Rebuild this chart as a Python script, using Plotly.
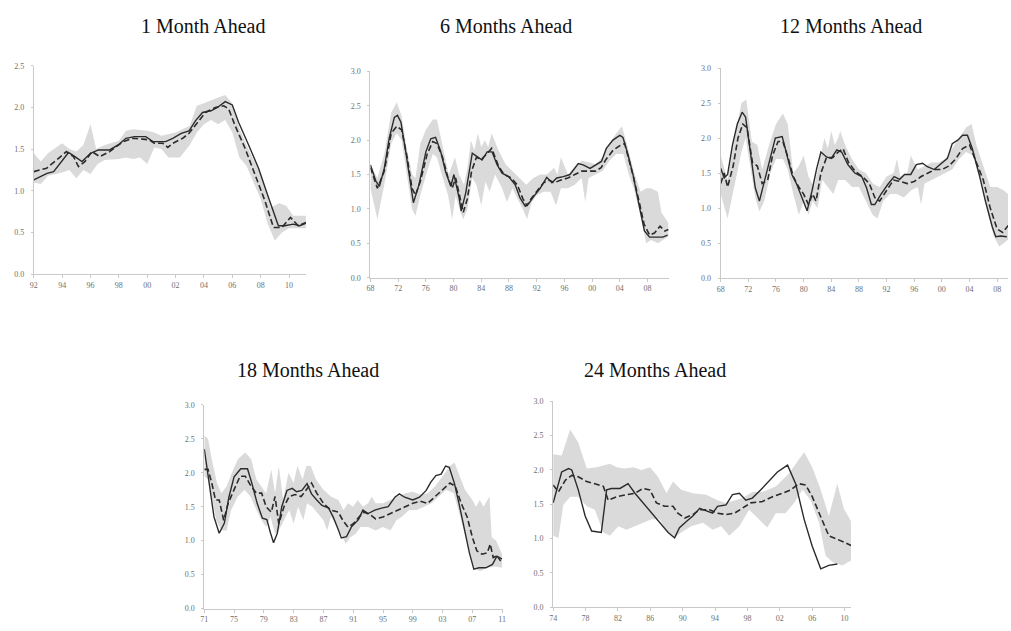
import plotly.graph_objects as go

W, H = 1011, 631

# ---------------- 1 Month Ahead ----------------
m1_actual_x = [1992.0, 1992.93, 1993.4, 1994.0, 1994.45, 1994.9, 1995.4, 1996.0, 1996.55, 1997.35,
               1997.95, 1998.5, 1999.1, 1999.9, 2000.4, 2000.85, 2001.3, 2001.8, 2002.4, 2002.95,
               2003.4, 2003.9, 2004.5, 2004.95, 2005.5, 2006.0, 2006.45, 2007.15, 2007.85, 2008.55,
               2009.25, 2009.7, 2010.3, 2010.75, 2011.2]
m1_actual_y = [1.13, 1.21, 1.23, 1.37, 1.46, 1.41, 1.35, 1.45, 1.49, 1.49,
               1.55, 1.63, 1.65, 1.65, 1.59, 1.59, 1.59, 1.63, 1.69, 1.72,
               1.84, 1.94, 1.96, 2.00, 2.07, 2.03, 1.82, 1.55, 1.27, 0.92,
               0.58, 0.58, 0.60, 0.58, 0.61]
m1_fc_x = [1992.0, 1992.9, 1993.75, 1994.3, 1994.8, 1995.15, 1995.6, 1996.1, 1996.65, 1997.35,
           1998.3, 1999.0, 1999.7, 2000.15, 2000.5, 2001.1, 2001.45, 2001.8, 2002.5, 2002.95,
           2003.55, 2004.1, 2004.8, 2005.4, 2005.75, 2006.2, 2006.9, 2007.6, 2008.3, 2008.9,
           2009.5, 2010.1, 2010.65, 2011.2]
m1_fc_y = [1.23, 1.27, 1.39, 1.47, 1.41, 1.29, 1.35, 1.47, 1.41, 1.47,
           1.59, 1.63, 1.62, 1.61, 1.57, 1.57, 1.52, 1.57, 1.63, 1.69,
           1.82, 1.94, 2.00, 2.02, 1.98, 1.78, 1.51, 1.19, 0.88, 0.56,
           0.56, 0.68, 0.58, 0.62]
m1_hi_x = [1992.0, 1992.5, 1993.0, 1994.0, 1994.5, 1995.0, 1995.5, 1996.0, 1996.4, 1997.0,
           1998.0, 1998.5, 1999.0, 2000.0, 2000.5, 2001.0, 2002.0, 2003.0, 2003.5, 2004.0,
           2005.0, 2005.5, 2006.0, 2006.5, 2007.0, 2008.0, 2008.7, 2009.3, 2009.8, 2010.3, 2011.2]
m1_hi_y = [1.45, 1.35, 1.45, 1.57, 1.50, 1.47, 1.55, 1.80, 1.50, 1.55,
           1.60, 1.72, 1.74, 1.72, 1.70, 1.66, 1.70, 1.78, 2.02, 2.05,
           2.12, 2.15, 2.05, 1.75, 1.55, 1.20, 0.80, 0.85, 0.82, 0.70, 0.70]
m1_lo_x = [1992.0, 1992.5, 1993.0, 1994.0, 1994.5, 1995.0, 1995.5, 1996.0, 1996.5, 1997.0,
           1998.0, 1998.5, 1999.0, 1999.5, 2000.0, 2000.5, 2001.0, 2001.5, 2002.3, 2003.0,
           2003.5, 2004.0, 2004.5, 2005.0, 2005.5, 2006.0, 2006.5, 2007.0, 2008.0, 2008.5,
           2009.0, 2009.5, 2010.0, 2011.2]
m1_lo_y = [1.10, 1.08, 1.18, 1.22, 1.25, 1.15, 1.25, 1.20, 1.32, 1.37,
           1.38, 1.40, 1.38, 1.40, 1.32, 1.52, 1.50, 1.40, 1.40, 1.55,
           1.70, 1.80, 1.85, 1.80, 1.85, 1.70, 1.40, 1.30, 0.90, 0.60,
           0.40, 0.50, 0.55, 0.55]

# ---------------- 6 Months Ahead ----------------
m6_actual_x = [1968.0, 1968.8, 1969.3, 1970.0, 1970.7, 1971.45, 1971.9, 1972.4, 1973.1, 1973.85,
               1974.2, 1975.0, 1976.0, 1976.7, 1977.4, 1978.15, 1978.85, 1979.6, 1980.05, 1980.8,
               1981.1, 1981.75, 1982.2, 1982.7, 1983.4, 1984.1, 1984.85, 1985.55, 1986.3, 1987.0,
               1987.95, 1988.9, 1989.6, 1990.35, 1990.8, 1991.55, 1992.5, 1993.45, 1994.2, 1994.9,
               1995.85, 1996.8, 1998.0, 1998.7, 1999.7, 2000.6, 2001.35, 2002.05, 2003.0, 2004.0,
               2004.45, 2005.2, 2005.9, 2006.85, 2007.55, 2008.3, 2009.25, 2010.2, 2010.9]
m6_actual_y = [1.64, 1.40, 1.33, 1.59, 2.02, 2.33, 2.36, 2.26, 1.83, 1.30,
               1.09, 1.35, 1.83, 2.02, 2.04, 1.83, 1.54, 1.33, 1.50, 1.16,
               0.97, 1.23, 1.50, 1.81, 1.76, 1.71, 1.83, 1.83, 1.64, 1.52,
               1.47, 1.35, 1.16, 1.04, 1.07, 1.18, 1.30, 1.46, 1.38, 1.45,
               1.47, 1.50, 1.66, 1.64, 1.59, 1.64, 1.69, 1.88, 2.00, 2.07,
               2.04, 1.78, 1.50, 1.02, 0.68, 0.59, 0.59, 0.59, 0.62]
m6_fc_x = [1968.0, 1969.0, 1970.0, 1971.0, 1971.8, 1972.5, 1973.3, 1974.0, 1974.5, 1975.2,
           1976.2, 1977.0, 1977.6, 1978.4, 1979.2, 1979.8, 1980.3, 1981.0, 1981.4, 1982.0,
           1982.6, 1983.3, 1984.0, 1984.8, 1985.5, 1986.5, 1987.3, 1988.3, 1989.2, 1990.0,
           1990.6, 1991.2, 1992.0, 1993.0, 1993.8, 1994.5, 1995.5, 1996.5, 1997.5, 1998.5,
           1999.5, 2000.5, 2001.3, 2002.0, 2003.0, 2004.0, 2004.7, 2005.3, 2006.0, 2006.8,
           2007.5, 2008.3, 2009.0, 2009.8, 2010.5, 2011.0]
m6_fc_y = [1.60, 1.30, 1.55, 2.10, 2.20, 2.15, 1.75, 1.30, 1.20, 1.40,
           1.80, 1.98, 1.95, 1.75, 1.45, 1.30, 1.45, 1.10, 0.95, 1.15,
           1.55, 1.75, 1.72, 1.80, 1.88, 1.62, 1.50, 1.45, 1.35, 1.15,
           1.05, 1.15, 1.25, 1.38, 1.42, 1.38, 1.42, 1.45, 1.50, 1.55,
           1.55, 1.55, 1.60, 1.72, 1.85, 1.92, 1.95, 1.72, 1.45, 1.10,
           0.78, 0.62, 0.65, 0.75, 0.68, 0.70]
m6_hi_x = [1968.0, 1969.0, 1970.0, 1971.0, 1971.8, 1972.5, 1973.2, 1974.0, 1974.5, 1975.2,
           1976.0, 1977.0, 1977.6, 1978.3, 1979.3, 1980.2, 1980.8, 1981.5, 1982.0, 1982.5,
           1983.0, 1983.5, 1984.0, 1984.5, 1985.0, 1985.5, 1986.5, 1987.5, 1988.5, 1989.5,
           1990.5, 1991.5, 1992.5, 1993.5, 1994.5, 1995.0, 1995.5, 1996.5, 1997.5, 1998.5,
           1999.5, 2000.5, 2001.5, 2002.5, 2003.5, 2004.3, 2005.0, 2006.0, 2007.0, 2007.8,
           2008.5, 2009.5, 2010.0, 2011.0]
m6_hi_y = [1.65, 1.45, 1.80, 2.40, 2.55, 2.35, 1.90, 1.50, 1.45, 1.95,
           2.15, 2.30, 2.30, 1.95, 1.50, 1.75, 1.50, 1.35, 1.60, 2.00,
           1.85, 2.10, 1.90, 2.00, 1.90, 2.10, 1.85, 1.65, 1.55, 1.45,
           1.35, 1.45, 1.50, 1.50, 1.60, 1.50, 1.75, 1.50, 1.60, 1.70,
           1.68, 1.65, 1.75, 1.95, 2.10, 2.20, 1.95, 1.55, 1.25, 1.30,
           1.30, 1.25, 0.95, 0.80]
m6_lo_x = [1968.0, 1969.0, 1970.0, 1971.0, 1971.8, 1972.5, 1973.3, 1974.0, 1974.5, 1975.2,
           1976.2, 1977.0, 1977.6, 1978.3, 1979.2, 1979.8, 1980.3, 1981.0, 1981.4, 1982.0,
           1982.7, 1983.3, 1984.0, 1984.6, 1985.2, 1986.0, 1987.0, 1987.7, 1988.5, 1989.2,
           1990.0, 1990.6, 1991.3, 1992.0, 1993.0, 1994.0, 1994.8, 1995.5, 1996.5, 1997.5,
           1998.5, 1999.0, 1999.5, 2000.5, 2001.5, 2002.5, 2003.5, 2004.5, 2005.3, 2006.0,
           2007.0, 2007.8, 2008.5, 2009.5, 2010.3, 2011.0]
m6_lo_y = [1.30, 0.85, 1.35, 1.95, 2.10, 2.00, 1.50, 1.00, 0.90, 1.20,
           1.55, 1.80, 1.75, 1.50, 1.20, 0.85, 1.20, 0.95, 0.85, 1.00,
           1.45, 1.35, 1.05, 1.40, 1.25, 1.50, 1.30, 1.10, 1.30, 1.15,
           1.00, 0.85, 1.10, 1.20, 1.25, 1.25, 1.05, 1.30, 1.30, 1.35,
           1.45, 1.10, 1.45, 1.50, 1.55, 1.70, 1.80, 1.80, 1.50, 1.30,
           0.90, 0.50, 0.55, 0.50, 0.55, 0.60]

# ---------------- 12 Months Ahead ----------------
m12_actual_x = [1968.0, 1968.5, 1969.0, 1969.7, 1970.4, 1971.1, 1971.6, 1972.3, 1973.0, 1973.6,
                1974.2, 1975.2, 1975.9, 1976.9, 1977.6, 1978.3, 1979.0, 1979.7, 1980.5, 1981.2,
                1981.9, 1982.5, 1983.3, 1984.0, 1984.8, 1985.5, 1986.4, 1987.4, 1988.4, 1989.1,
                1989.8, 1990.3, 1991.2, 1992.2, 1993.1, 1993.9, 1994.6, 1995.5, 1996.3, 1997.2,
                1997.9, 1998.9, 1999.9, 2000.8, 2001.5, 2002.3, 2003.0, 2003.7, 2004.4, 2005.4,
                2006.3, 2007.3, 2007.8, 2008.5, 2009.4]
m12_actual_y = [1.57, 1.43, 1.48, 1.90, 2.20, 2.37, 2.30, 1.80, 1.29, 1.10,
                1.34, 1.76, 2.00, 2.02, 1.76, 1.48, 1.34, 1.17, 0.96, 1.24,
                1.57, 1.80, 1.73, 1.71, 1.83, 1.80, 1.62, 1.50, 1.45, 1.29,
                1.05, 1.05, 1.20, 1.34, 1.45, 1.41, 1.48, 1.48, 1.62, 1.64,
                1.59, 1.55, 1.64, 1.71, 1.92, 1.97, 2.04, 2.04, 1.85, 1.48,
                1.10, 0.73, 0.59, 0.60, 0.59]
m12_fc_x = [1968.0, 1968.5, 1969.0, 1969.8, 1970.5, 1971.2, 1971.8, 1972.6, 1973.3, 1974.0,
            1974.8, 1975.5, 1976.3, 1977.0, 1977.8, 1978.5, 1979.3, 1980.0, 1980.7, 1981.3,
            1981.8, 1982.5, 1983.3, 1984.2, 1985.0, 1985.7, 1986.5, 1987.5, 1988.5, 1989.5,
            1990.3, 1991.0, 1992.0, 1993.0, 1994.0, 1995.0, 1996.0, 1997.0, 1998.0, 1999.0,
            2000.0, 2001.0, 2002.0, 2003.0, 2004.0, 2005.0, 2006.0, 2007.0, 2008.0, 2008.8, 2009.6]
m12_fc_y = [1.35, 1.50, 1.30, 1.60, 2.00, 2.20, 2.15, 1.65, 1.60, 1.35,
            1.40, 1.75, 1.95, 1.95, 1.70, 1.45, 1.30, 1.20, 1.05, 1.20,
            1.10, 1.50, 1.72, 1.72, 1.80, 1.85, 1.65, 1.52, 1.45, 1.35,
            1.15, 1.10, 1.25, 1.40, 1.38, 1.35, 1.38, 1.45, 1.50, 1.55,
            1.55, 1.60, 1.70, 1.85, 1.90, 1.65, 1.40, 1.00, 0.70, 0.65, 0.75]
m12_hi_x = [1968.0, 1969.0, 1970.0, 1971.0, 1971.7, 1972.5, 1973.3, 1974.0, 1975.0, 1976.0,
            1977.0, 1977.7, 1978.5, 1979.3, 1980.0, 1980.7, 1981.5, 1982.3, 1983.0, 1983.5,
            1984.0, 1984.5, 1985.0, 1985.3, 1986.0, 1987.0, 1988.0, 1989.0, 1990.0, 1991.0,
            1992.0, 1993.0, 1993.5, 1994.0, 1995.0, 1995.5, 1996.5, 1997.5, 1998.5, 1999.5,
            2000.5, 2001.5, 2002.5, 2003.5, 2004.3, 2005.0, 2006.0, 2007.0, 2008.0, 2009.0, 2009.6]
m12_hi_y = [1.75, 1.40, 2.00, 2.50, 2.55, 1.95, 1.90, 1.55, 1.90, 2.20,
            2.35, 2.20, 1.50, 1.60, 1.75, 1.45, 1.30, 1.70, 2.00, 1.85,
            2.10, 1.90, 2.00, 2.10, 1.90, 1.70, 1.55, 1.50, 1.35, 1.30,
            1.45, 1.50, 1.70, 1.45, 1.50, 1.75, 1.55, 1.60, 1.65, 1.65,
            1.70, 1.85, 2.00, 2.15, 2.20, 1.90, 1.60, 1.30, 1.30, 1.25, 1.20]
m12_lo_x = [1968.0, 1969.0, 1970.0, 1971.0, 1971.6, 1972.4, 1973.0, 1973.6, 1974.3, 1975.2,
            1976.0, 1977.0, 1977.7, 1978.5, 1979.3, 1980.0, 1980.7, 1981.3, 1982.0, 1982.7,
            1983.5, 1984.3, 1985.0, 1986.0, 1987.0, 1988.0, 1989.0, 1990.0, 1990.7, 1991.5,
            1992.5, 1993.5, 1994.5, 1995.5, 1996.5, 1997.0, 1997.5, 1998.5, 1999.5, 2000.5,
            2001.5, 2002.5, 2003.5, 2004.5, 2005.5, 2006.5, 2007.5, 2008.3, 2009.0, 2009.6]
m12_lo_y = [1.20, 0.85, 1.30, 1.80, 2.00, 1.50, 1.15, 0.95, 1.10, 1.50,
            1.70, 1.70, 1.55, 1.20, 0.90, 1.10, 0.90, 1.10, 1.00, 1.40,
            1.30, 1.20, 1.40, 1.40, 1.30, 1.30, 1.10, 0.90, 0.85, 1.10,
            1.20, 1.20, 1.15, 1.25, 1.30, 1.05, 1.35, 1.40, 1.45, 1.50,
            1.55, 1.70, 1.80, 1.75, 1.40, 1.00, 0.60, 0.45, 0.50, 0.55]

# ---------------- 18 Months Ahead ----------------
m18_actual_x = [1971.0, 1971.7, 1972.3, 1973.0, 1973.7, 1974.3, 1975.0, 1975.9, 1976.8, 1977.4,
                1978.1, 1978.8, 1979.4, 1979.9, 1980.3, 1980.8, 1981.4, 1982.1, 1982.8, 1983.4,
                1984.1, 1984.8, 1985.4, 1986.1, 1986.8, 1987.7, 1988.3, 1989.0, 1989.4, 1990.1,
                1990.8, 1991.7, 1992.3, 1993.0, 1993.9, 1994.8, 1995.7, 1996.6, 1997.2, 1997.9,
                1999.0, 1999.9, 2000.8, 2001.4, 2002.1, 2002.8, 2003.4, 2003.9, 2004.6, 2005.2,
                2005.9, 2006.6, 2007.2, 2007.9, 2008.8, 2009.7, 2010.3, 2011.0]
m18_actual_y = [2.35, 1.84, 1.35, 1.11, 1.26, 1.64, 1.94, 2.06, 2.06, 1.84,
                1.55, 1.33, 1.31, 1.11, 0.97, 1.11, 1.50, 1.74, 1.77, 1.72,
                1.74, 1.84, 1.69, 1.60, 1.52, 1.48, 1.35, 1.16, 1.04, 1.06,
                1.21, 1.31, 1.45, 1.40, 1.45, 1.48, 1.50, 1.64, 1.69, 1.64,
                1.60, 1.64, 1.74, 1.86, 1.96, 1.98, 2.10, 2.08, 1.84, 1.55,
                1.16, 0.82, 0.58, 0.60, 0.60, 0.65, 0.77, 0.73]
m18_fc_x = [1971.0, 1971.5, 1972.0, 1972.5, 1973.0, 1973.6, 1974.2, 1975.0, 1975.8, 1976.5,
            1977.3, 1978.0, 1978.7, 1979.3, 1980.0, 1980.5, 1981.0, 1981.7, 1982.4, 1983.2,
            1984.0, 1984.7, 1985.4, 1986.1, 1987.0, 1988.0, 1989.0, 1989.6, 1990.3, 1991.0,
            1991.8, 1992.5, 1993.3, 1994.0, 1995.0, 1996.0, 1997.0, 1998.0, 1999.0, 2000.0,
            2001.0, 2002.0, 2003.0, 2004.0, 2004.7, 2005.5, 2006.3, 2007.0, 2007.6, 2008.3,
            2009.0, 2009.4, 2009.8, 2010.3, 2010.8]
m18_fc_y = [2.05, 2.05, 1.85, 1.60, 1.60, 1.30, 1.55, 1.75, 1.95, 1.95,
            1.80, 1.70, 1.70, 1.50, 1.42, 1.65, 1.25, 1.50, 1.65, 1.68,
            1.65, 1.75, 1.85, 1.70, 1.55, 1.45, 1.42, 1.30, 1.20, 1.25,
            1.35, 1.42, 1.38, 1.32, 1.35, 1.40, 1.45, 1.50, 1.55, 1.58,
            1.55, 1.65, 1.75, 1.85, 1.80, 1.55, 1.35, 1.05, 0.85, 0.80,
            0.82, 0.95, 0.75, 0.78, 0.70]
m18_hi_x = [1971.0, 1971.5, 1972.0, 1972.7, 1973.3, 1974.0, 1974.7, 1975.5, 1976.5, 1977.3,
            1978.0, 1978.7, 1979.3, 1980.0, 1980.5, 1981.0, 1981.6, 1982.3, 1983.0, 1983.5,
            1984.2, 1984.7, 1985.3, 1986.0, 1987.0, 1988.0, 1989.0, 1989.7, 1990.3, 1991.0,
            1991.6, 1992.3, 1993.0, 1993.5, 1994.0, 1995.0, 1996.0, 1997.0, 1998.0, 1999.0,
            2000.0, 2001.0, 2002.0, 2003.0, 2004.0, 2004.6, 2005.3, 2006.0, 2007.0, 2007.5,
            2008.0, 2008.5, 2009.3, 2009.6, 2010.2, 2011.0]
m18_hi_y = [2.55, 2.50, 2.20, 1.85, 1.70, 1.80, 2.00, 2.20, 2.30, 2.20,
            1.90, 1.80, 1.70, 2.05, 1.70, 2.10, 1.60, 2.00, 1.85, 2.10,
            1.90, 2.10, 2.10, 1.90, 1.75, 1.65, 1.60, 1.45, 1.55, 1.50,
            1.60, 1.50, 1.55, 1.65, 1.55, 1.55, 1.60, 1.65, 1.70, 1.72,
            1.68, 1.70, 1.80, 1.95, 2.10, 2.15, 1.95, 1.75, 1.60, 1.50,
            1.60, 1.50, 1.65, 1.05, 1.00, 0.80]
m18_lo_x = [1971.0, 1971.5, 1972.0, 1972.6, 1973.3, 1974.0, 1974.6, 1975.5, 1976.4, 1977.2,
            1978.0, 1978.7, 1979.3, 1979.9, 1980.5, 1981.0, 1981.7, 1982.4, 1983.0, 1983.6,
            1984.3, 1984.8, 1985.5, 1986.2, 1987.0, 1987.5, 1988.0, 1988.7, 1989.4, 1990.0,
            1990.6, 1991.3, 1992.0, 1993.0, 1994.0, 1995.0, 1996.0, 1996.8, 1997.5, 1998.5,
            1999.5, 2000.5, 2001.5, 2002.5, 2003.5, 2004.5, 2005.3, 2006.0, 2006.7, 2007.3,
            2008.0, 2009.0, 2010.0, 2011.0]
m18_lo_y = [1.95, 1.90, 1.65, 1.30, 1.15, 1.15, 1.45, 1.65, 1.75, 1.65,
            1.45, 1.30, 1.20, 1.35, 1.10, 1.15, 1.30, 1.45, 1.25, 1.50,
            1.30, 1.55, 1.50, 1.40, 1.30, 1.15, 1.35, 1.25, 1.10, 0.95,
            1.05, 1.10, 1.20, 1.20, 1.15, 1.20, 1.15, 1.30, 1.35, 1.45,
            1.45, 1.50, 1.55, 1.65, 1.75, 1.70, 1.40, 1.10, 0.80, 0.60,
            0.55, 0.60, 0.62, 0.60]

# ---------------- 24 Months Ahead ----------------
m24_actual_x = [1974.0, 1975.05, 1975.9, 1976.3, 1977.1, 1977.95, 1978.75, 1979.55, 1979.95, 1980.6,
                1981.2, 1982.25, 1983.25, 1984.1, 1985.1, 1986.15, 1987.15, 1988.2, 1989.0, 1989.6,
                1990.45, 1991.25, 1992.1, 1992.9, 1993.7, 1994.3, 1995.35, 1996.15, 1997.0, 1997.8,
                1998.6, 1999.65, 2000.7, 2001.7, 2002.95, 2003.95, 2005.0, 2006.0, 2007.05, 2008.05,
                2009.1]
m24_actual_y = [1.52, 1.97, 2.02, 2.00, 1.71, 1.33, 1.11, 1.09, 1.09, 1.71,
                1.73, 1.73, 1.80, 1.66, 1.52, 1.37, 1.23, 1.09, 1.01, 1.16,
                1.25, 1.33, 1.44, 1.40, 1.37, 1.47, 1.49, 1.64, 1.66, 1.56,
                1.59, 1.71, 1.85, 1.97, 2.07, 1.80, 1.28, 0.89, 0.56, 0.61,
                0.63]
m24_fc_x = [1974.0, 1974.65, 1975.5, 1976.3, 1977.1, 1978.15, 1979.15, 1980.2, 1980.8, 1981.85,
            1983.05, 1984.1, 1985.1, 1985.95, 1986.75, 1987.8, 1988.8, 1989.4, 1990.25, 1991.25,
            1992.1, 1993.3, 1994.3, 1995.35, 1996.4, 1997.4, 1998.4, 1999.85, 2001.1, 2002.3,
            2003.35, 2004.35, 2005.2, 2006.0, 2007.05, 2008.05, 2009.1, 2010.1, 2010.8]
m24_fc_y = [1.78, 1.68, 1.85, 1.92, 1.90, 1.83, 1.80, 1.76, 1.56, 1.61,
            1.64, 1.66, 1.73, 1.71, 1.52, 1.47, 1.47, 1.37, 1.30, 1.35,
            1.42, 1.42, 1.37, 1.35, 1.37, 1.44, 1.52, 1.54, 1.61, 1.66,
            1.71, 1.80, 1.78, 1.61, 1.33, 1.04, 0.99, 0.94, 0.90]
m24_hi_x = [1974.0, 1975.05, 1976.1, 1977.1, 1978.15, 1979.35, 1981.0, 1981.85, 1982.85, 1983.9,
            1984.9, 1985.95, 1986.95, 1988.0, 1988.8, 1989.8, 1991.25, 1992.9, 1994.3, 1995.35,
            1997.4, 1998.6, 1999.85, 2001.5, 2003.15, 2003.95, 2005.0, 2006.0, 2007.05, 2008.05,
            2009.1, 2009.9, 2010.8]
m24_hi_y = [2.23, 2.21, 2.59, 2.40, 2.02, 2.04, 2.09, 2.04, 2.02, 2.04,
            2.00, 2.04, 1.90, 1.66, 1.83, 1.71, 1.66, 1.64, 1.56, 1.52,
            1.59, 1.68, 1.68, 1.76, 1.95, 2.09, 2.26, 2.04, 1.71, 1.33,
            1.80, 1.44, 1.25]
m24_lo_x = [1974.0, 1974.65, 1975.25, 1976.1, 1977.1, 1978.15, 1979.15, 1980.2, 1981.0, 1982.05,
            1983.05, 1984.1, 1985.1, 1986.15, 1987.15, 1988.0, 1989.0, 1989.8, 1991.05, 1992.5,
            1993.7, 1994.75, 1995.75, 1997.0, 1998.2, 1999.45, 2000.45, 2001.5, 2002.7, 2003.75,
            2004.8, 2005.8, 2006.85, 2007.65, 2008.5, 2009.7, 2010.8]
m24_lo_y = [1.04, 1.01, 1.49, 1.61, 1.61, 1.47, 1.42, 1.09, 1.04, 1.18,
            1.13, 1.18, 1.23, 1.28, 1.28, 1.11, 1.01, 1.09, 1.18, 1.23,
            1.13, 1.18, 1.04, 1.18, 1.42, 1.28, 1.16, 1.37, 1.37, 1.52,
            1.71, 1.56, 1.23, 0.75, 0.66, 0.61, 0.68]

# Tick positions per panel
m1_ticks = [1992, 1994, 1996, 1998, 2000, 2002, 2004, 2006, 2008, 2010]
m6_ticks = [1968, 1972, 1976, 1980, 1984, 1988, 1992, 1996, 2000, 2004, 2008]
m12_ticks = [1968, 1972, 1976, 1980, 1984, 1988, 1992, 1996, 2000, 2004, 2008]
m18_ticks = [1971, 1975, 1979, 1983, 1987, 1991, 1995, 1999, 2003, 2007, 2011]
m24_ticks = [1974, 1978, 1982, 1986, 1990, 1994, 1998, 2002, 2006, 2010]

titles = ["1 Month Ahead", "6 Months Ahead", "12 Months Ahead", "18 Months Ahead", "24 Months Ahead"]

panels = [
    dict(act=(m1_actual_x, m1_actual_y), fc=(m1_fc_x, m1_fc_y), hi=(m1_hi_x, m1_hi_y), lo=(m1_lo_x, m1_lo_y),
         ticks=m1_ticks, xr=[1992, 2011.19], ymax=2.5, px=(30, 304), py=(62.7, 274), title_xy=(200, 22)),
    dict(act=(m6_actual_x, m6_actual_y), fc=(m6_fc_x, m6_fc_y), hi=(m6_hi_x, m6_hi_y), lo=(m6_lo_x, m6_lo_y),
         ticks=m6_ticks, xr=[1968, 2011.15], ymax=3.0, px=(369, 670), py=(68.3, 277.7), title_xy=(506, 22)),
    dict(act=(m12_actual_x, m12_actual_y), fc=(m12_fc_x, m12_fc_y), hi=(m12_hi_x, m12_hi_y), lo=(m12_lo_x, m12_lo_y),
         ticks=m12_ticks, xr=[1968, 2009.57], ymax=3.0, px=(721.7, 1011), py=(65, 278), title_xy=(853, 22)),
    dict(act=(m18_actual_x, m18_actual_y), fc=(m18_fc_x, m18_fc_y), hi=(m18_hi_x, m18_hi_y), lo=(m18_lo_x, m18_lo_y),
         ticks=m18_ticks, xr=[1971, 2011.05], ymax=3.0, px=(201.7, 502), py=(406.7, 613.3), title_xy=(306, 371)),
    dict(act=(m24_actual_x, m24_actual_y), fc=(m24_fc_x, m24_fc_y), hi=(m24_hi_x, m24_hi_y), lo=(m24_lo_x, m24_lo_y),
         ticks=m24_ticks, xr=[1974, 2010.8], ymax=3.0, px=(553, 853), py=(403, 612), title_xy=(656, 371)),
]

BAND = "#dadada"
LINE = "#2b2b2b"
AXIS = "#c9c9c9"
TICKFONT = dict(family="Liberation Serif", size=8, color="#6f6f6f")

fig = go.Figure()
layout = dict(width=W, height=H, margin=dict(l=0, r=0, t=0, b=0),
              paper_bgcolor="white", plot_bgcolor="white", showlegend=False,
              annotations=[])

for i, p in enumerate(panels, start=1):
    xa = "x" if i == 1 else f"x{i}"
    ya = "y" if i == 1 else f"y{i}"
    # shaded range: upper edge forward, lower edge back
    band_x = list(p["hi"][0]) + list(reversed(p["lo"][0]))
    band_y = list(p["hi"][1]) + list(reversed(p["lo"][1]))
    fig.add_trace(go.Scatter(x=band_x, y=band_y, fill="toself", fillcolor=BAND,
                             line=dict(width=0), mode="lines", xaxis=xa, yaxis=ya,
                             hoverinfo="skip"))
    fig.add_trace(go.Scatter(x=p["fc"][0], y=p["fc"][1], mode="lines",
                             line=dict(color=LINE, width=1.6, dash="6px,3px"),
                             xaxis=xa, yaxis=ya))
    fig.add_trace(go.Scatter(x=p["act"][0], y=p["act"][1], mode="lines",
                             line=dict(color=LINE, width=1.4),
                             xaxis=xa, yaxis=ya))

    x0, x1 = p["px"]
    y0, y1 = p["py"]
    xkey = "xaxis" if i == 1 else f"xaxis{i}"
    ykey = "yaxis" if i == 1 else f"yaxis{i}"
    layout[xkey] = dict(domain=[x0 / W, min(x1 / W, 1.0)], range=p["xr"], anchor=ya,
                        tickvals=p["ticks"], ticktext=[f"{t % 100:02d}" for t in p["ticks"]],
                        showline=True, linecolor=AXIS, linewidth=1, showgrid=False, zeroline=False,
                        ticks="outside", ticklen=3, tickcolor=AXIS, tickfont=TICKFONT)
    yvals = [k * 0.5 for k in range(int(p["ymax"] / 0.5) + 1)]
    layout[ykey] = dict(domain=[1 - y1 / H, 1 - y0 / H], range=[0, p["ymax"]], anchor=xa,
                        tickvals=yvals, ticktext=[f"{v:.1f}" for v in yvals],
                        showline=True, linecolor=AXIS, linewidth=1, showgrid=False, zeroline=False,
                        ticks="outside", ticklen=2, tickcolor=AXIS, tickfont=TICKFONT,
                        ticklabelstandoff=5)
    tx, ty = p["title_xy"]
    layout["annotations"].append(dict(text=titles[i - 1], x=tx / W, y=1 - ty / H,
                                      xref="paper", yref="paper", showarrow=False,
                                      xanchor="center", yanchor="middle",
                                      font=dict(family="Liberation Serif", size=20, color="#111")))

fig.update_layout(**layout)
fig.write_html("out.html")
